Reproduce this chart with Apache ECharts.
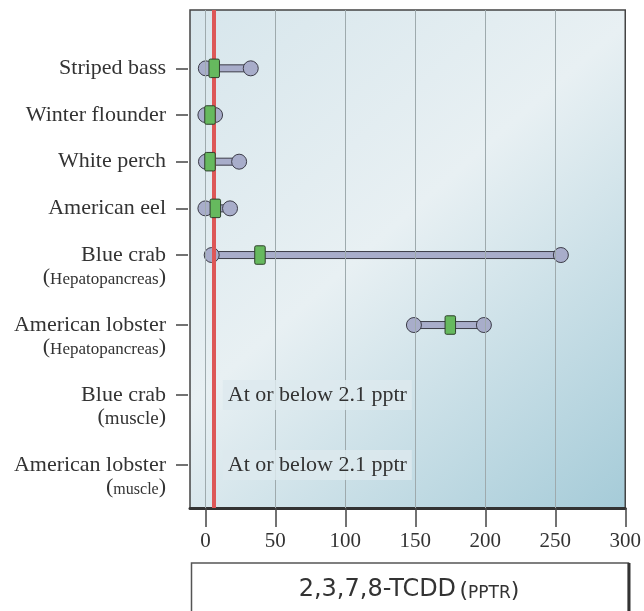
<!DOCTYPE html>
<html><head><meta charset="utf-8">
<script src="https://cdn.jsdelivr.net/npm/echarts@6/dist/echarts.min.js"></script>
<style>html,body{margin:0;padding:0;background:#fff}#c{width:644px;height:611px}</style>
</head><body><div id="c"></div>
<script>
// ---- data ----
const species = ["Striped bass","Winter flounder","White perch","American eel","Blue crab","American lobster","Blue crab","American lobster"];
const tissues = ["","","","","Hepatopancreas","Hepatopancreas","muscle","muscle"];
const rowSlots = [0,2,4,6,8,11,14,17];
const minValues = [0.3, 0, 0.4, 0, 4.5, 149, null, null];
const medianValues = [6.3, 3.3, 3.3, 7.1, 39, 175, null, null];
const maxValues = [32.4, 6.9, 24.1, 17.6, 254, 199, null, null];
const notes = ["","","","","","","At or below 2.1 pptr","At or below 2.1 pptr"];
const xTicks = [0,50,100,150,200,250,300];
const gridValues = [0,50,100,150,200,250];
const referenceLine = 6;
const axisTitle = "2,3,7,8-TCDD";
const axisUnit = "PPTR";

// ---- chart ----
const serif = '"Liberation Serif", "Times New Roman", serif';
const sans = '"DejaVu Sans", sans-serif';
const chart = echarts.init(document.getElementById('c'), null, {renderer:'canvas'});

const rangeData = [];
const medianData = [];
const noteData = [];
species.forEach((s, i) => {
  if (minValues[i] != null) {
    rangeData.push([minValues[i], maxValues[i], rowSlots[i]]);
    medianData.push([medianValues[i], rowSlots[i]]);
  }
  if (notes[i]) noteData.push([referenceLine, rowSlots[i], notes[i]]);
});

const subStyleFor = i => (i === 6 ? 'm' : (i === 7 ? 'n' : 's'));

const option = {
  animation: false,
  grid: {
    left: 190, right: 17, top: 10, bottom: 103,
    show: true, borderColor: '#444', borderWidth: 1.5,
    backgroundColor: {
      type: 'linear', x: 0, y: 0, x2: 1, y2: 1,
      colorStops: [
        {offset: 0, color: '#d7e6ec'},
        {offset: 0.45, color: '#e8f0f3'},
        {offset: 1, color: '#a5cbd8'}
      ]
    }
  },
  xAxis: {
    type: 'value', min: -11, max: 300,
    axisLine: {show: true, onZero: false, lineStyle: {color: '#333', width: 3}},
    axisTick: {show: true, customValues: xTicks, length: 19, lineStyle: {color: '#444', width: 1.5}},
    axisLabel: {customValues: xTicks, margin: 23, fontFamily: serif, fontSize: 21, color: '#333'},
    splitLine: {show: false}
  },
  yAxis: {
    type: 'value', min: -2.5, max: 18.84, inverse: true, offset: 2,
    axisLine: {show: false, onZero: false},
    axisTick: {show: true, customValues: rowSlots, length: 12, lineStyle: {color: '#444', width: 1.5}},
    axisLabel: {
      customValues: rowSlots, margin: 22, align: 'right', padding: [22, 0, 0, 0],
      color: '#333', fontFamily: serif,
      formatter: v => {
        const i = rowSlots.indexOf(v);
        if (i < 0) return '';
        const st = subStyleFor(i);
        const second = tissues[i] ? `{p|(}{${st}|${tissues[i]}}{p|)}` : '{e| }';
        return `{t|${species[i]}}\n${second}`;
      },
      rich: {
        t: {fontFamily: serif, fontSize: 22, lineHeight: 22, color: '#333'},
        p: {fontFamily: serif, fontSize: 22, lineHeight: 22, color: '#333', verticalAlign: 'bottom'},
        s: {fontFamily: serif, fontSize: 17, lineHeight: 22, color: '#333', verticalAlign: 'bottom'},
        m: {fontFamily: serif, fontSize: 19, lineHeight: 22, color: '#333', verticalAlign: 'bottom'},
        n: {fontFamily: serif, fontSize: 16, lineHeight: 22, color: '#333', verticalAlign: 'bottom'},
        e: {fontSize: 10, lineHeight: 22}
      }
    },
    splitLine: {show: false}
  },
  series: [
    {
      type: 'line', data: [], z: 1, silent: true,
      markLine: {
        silent: true, symbol: 'none', label: {show: false},
        lineStyle: {color: '#9eaaad', width: 1, type: 'solid'},
        data: gridValues.map(v => ({xAxis: v}))
      }
    },
    {
      type: 'custom', z: 3, silent: true,
      encode: {x: [0, 1], y: 2},
      data: rangeData,
      renderItem: (params, api) => {
        const y = api.value(2);
        const a = api.coord([api.value(0), y]);
        const b = api.coord([api.value(1), y]);
        const st = {fill: '#a8adca', stroke: '#3c3c48', lineWidth: 1};
        return {type: 'group', children: [
          {type: 'rect', shape: {x: a[0], y: a[1] - 3.5, width: b[0] - a[0], height: 7}, style: st},
          {type: 'circle', shape: {cx: a[0], cy: a[1], r: 7.5}, style: st},
          {type: 'circle', shape: {cx: b[0], cy: b[1], r: 7.5}, style: st}
        ]};
      }
    },
    {
      type: 'line', data: [], z: 4, silent: true,
      markLine: {
        silent: true, symbol: 'none', label: {show: false},
        lineStyle: {color: '#dd5757', width: 4, type: 'solid'},
        data: [{xAxis: referenceLine}]
      }
    },
    {
      type: 'custom', z: 5, silent: true,
      encode: {x: 0, y: 1},
      data: medianData,
      renderItem: (params, api) => {
        const p = api.coord([api.value(0), api.value(1)]);
        return {type: 'rect', shape: {x: p[0] - 5.25, y: p[1] - 9.25, width: 10.5, height: 18.5, r: 1.5},
          style: {fill: '#66b95e', stroke: '#2e3f2c', lineWidth: 1}};
      }
    },
    {
      type: 'custom', z: 6, silent: true,
      encode: {x: 0, y: 1},
      data: noteData,
      renderItem: (params, api) => {
        const p = api.coord([api.value(0), api.value(1)]);
        return {type: 'text', x: p[0] + 9, y: p[1], style: {
          text: noteData[params.dataIndex][2], fontFamily: serif, fontSize: 22, fill: '#333',
          verticalAlign: 'middle', align: 'left', lineHeight: 22,
          backgroundColor: 'rgba(221,233,238,0.82)', padding: [4, 5, 4, 5]
        }};
      }
    }
  ],
  graphic: [
    {type: 'rect', shape: {x: 191.5, y: 563, width: 437, height: 60}, style: {fill: '#fff', stroke: '#555', lineWidth: 1.5}, z: 10},
    {type: 'line', shape: {x1: 629, y1: 563, x2: 629, y2: 611}, style: {stroke: '#333', lineWidth: 3}, z: 11},
    {type: 'text', x: 409, y: 589, z: 12, style: {
      text: `{a|${axisTitle}} {b|(}{c|${axisUnit}}{b|)}`,
      align: 'center', verticalAlign: 'middle',
      rich: {
        a: {fontFamily: sans, fontSize: 24, fill: '#333', lineHeight: 26, verticalAlign: 'bottom'},
        b: {fontFamily: sans, fontSize: 22, fill: '#333', lineHeight: 26, verticalAlign: 'bottom'},
        c: {fontFamily: sans, fontSize: 17, fill: '#333', lineHeight: 26, verticalAlign: 'bottom'}
      }
    }}
  ]
};
chart.setOption(option);
</script>
</body></html>
